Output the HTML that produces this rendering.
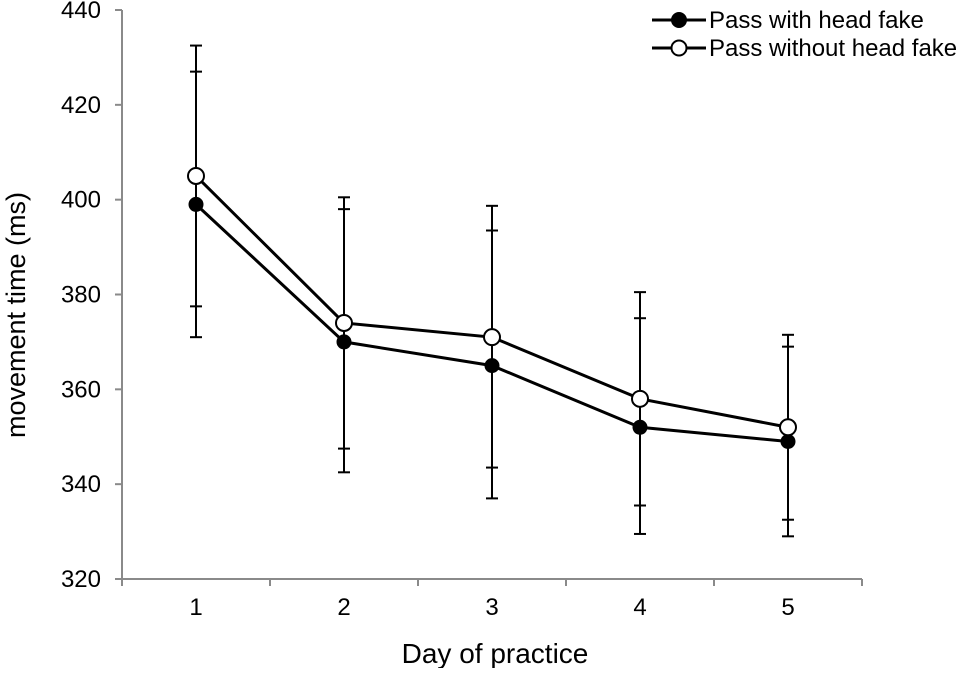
<!DOCTYPE html>
<html><head><meta charset="utf-8"><style>
body{margin:0;background:#fff}
svg text{font-family:"Liberation Sans",Arial,sans-serif;fill:#000}
</style></head><body>
<svg id="chart" width="964" height="668" viewBox="0 0 964 668" xmlns="http://www.w3.org/2000/svg">
<g id="axes"></g>
<g id="series"></g>
<text x="495" y="663" text-anchor="middle" font-size="28">Day of practice</text>
<text transform="translate(25,315) rotate(-90)" text-anchor="middle" font-size="27">movement time (ms)</text>
<g>
<g>
<line x1="652" y1="20" x2="706" y2="20" stroke="#000" stroke-width="3"/>
<circle cx="679" cy="20" r="7" fill="#000" stroke="#000" stroke-width="2"/>
<text x="709" y="28" font-size="24">Pass with head fake</text></g>
<g>
<line x1="652" y1="48" x2="706" y2="48" stroke="#000" stroke-width="3"/>
<circle cx="679" cy="48" r="7.5" fill="#fff" stroke="#000" stroke-width="2"/>
<text x="709" y="56" font-size="24">Pass without head fake</text></g>
</g>
</svg>
<script>
const categories=["1","2","3","4","5"];
const withFake=[399,370,365,352,349];
const withFakeHi=[427,398,393.5,375,369];
const withFakeLo=[377.5,347.5,343.5,335.5,332.5];
const withoutFake=[405,374,371,358,352];
const withoutFakeHi=[432.5,400.5,398.7,380.5,371.5];
const withoutFakeLo=[371,342.5,337,329.5,329];
const yTicks=[320,340,360,380,400,420,440];

const NS="http://www.w3.org/2000/svg";
const X0=122,X1=862,Y0=579,Y1=10;
const step=(X1-X0)/categories.length;
const x=i=>X0+step*(i+0.5);
const y=v=>Y0-(v-320)/120*(Y0-Y1);
function mk(tag,attrs,parent){const e=document.createElementNS(NS,tag);for(const k in attrs)e.setAttribute(k,attrs[k]);parent.appendChild(e);return e;}
const ax=document.getElementById('axes'),se=document.getElementById('series');
const g="#8a8a8a";
let l=mk('line',{x1:X0,y1:Y1,x2:X0,y2:Y0,stroke:g,'stroke-width':2},ax);


l=mk('line',{x1:X0-6,y1:Y0,x2:X1,y2:Y0,stroke:g,'stroke-width':2},ax);


yTicks.forEach(v=>{
 const t=mk('line',{x1:X0-7,y1:y(v),x2:X0,y2:y(v),stroke:g,'stroke-width':2},ax);
 
 
 const tx=mk('text',{x:X0-21,y:y(v)+8,'text-anchor':'end','font-size':24},ax);tx.textContent=v;
 
 
});
for(let i=0;i<=categories.length;i++){
 const t=mk('line',{x1:X0+step*i,y1:Y0,x2:X0+step*i,y2:Y0+7,stroke:g,'stroke-width':2},ax);
 
 
}
categories.forEach((c,i)=>{
 const tx=mk('text',{x:x(i),y:Y0+36,'text-anchor':'middle','font-size':24},ax);tx.textContent=c;
 
 
});
function series(vals,hi,lo,fill,name){
 vals.forEach((v,i)=>{
  const eg=mk('g',{},se);
  
  
  mk('line',{x1:x(i),y1:y(hi[i]),x2:x(i),y2:y(lo[i]),stroke:'#000','stroke-width':2},eg);
  mk('line',{x1:x(i)-6,y1:y(hi[i]),x2:x(i)+6,y2:y(hi[i]),stroke:'#000','stroke-width':2},eg);
  mk('line',{x1:x(i)-6,y1:y(lo[i]),x2:x(i)+6,y2:y(lo[i]),stroke:'#000','stroke-width':2},eg);
 });
 const p=mk('polyline',{points:vals.map((v,i)=>x(i)+','+y(v)).join(' '),fill:'none',stroke:'#000','stroke-width':3},se);
 
 
 vals.forEach((v,i)=>{
  const c=mk('circle',{cx:x(i),cy:y(v),r:fill==='#000'?6.5:8,fill:fill,stroke:'#000','stroke-width':2},se);
  
  
 });
}
series(withFake,withFakeHi,withFakeLo,'#000','with-head-fake');
series(withoutFake,withoutFakeHi,withoutFakeLo,'#fff','without-head-fake');
</script>
</body></html>
